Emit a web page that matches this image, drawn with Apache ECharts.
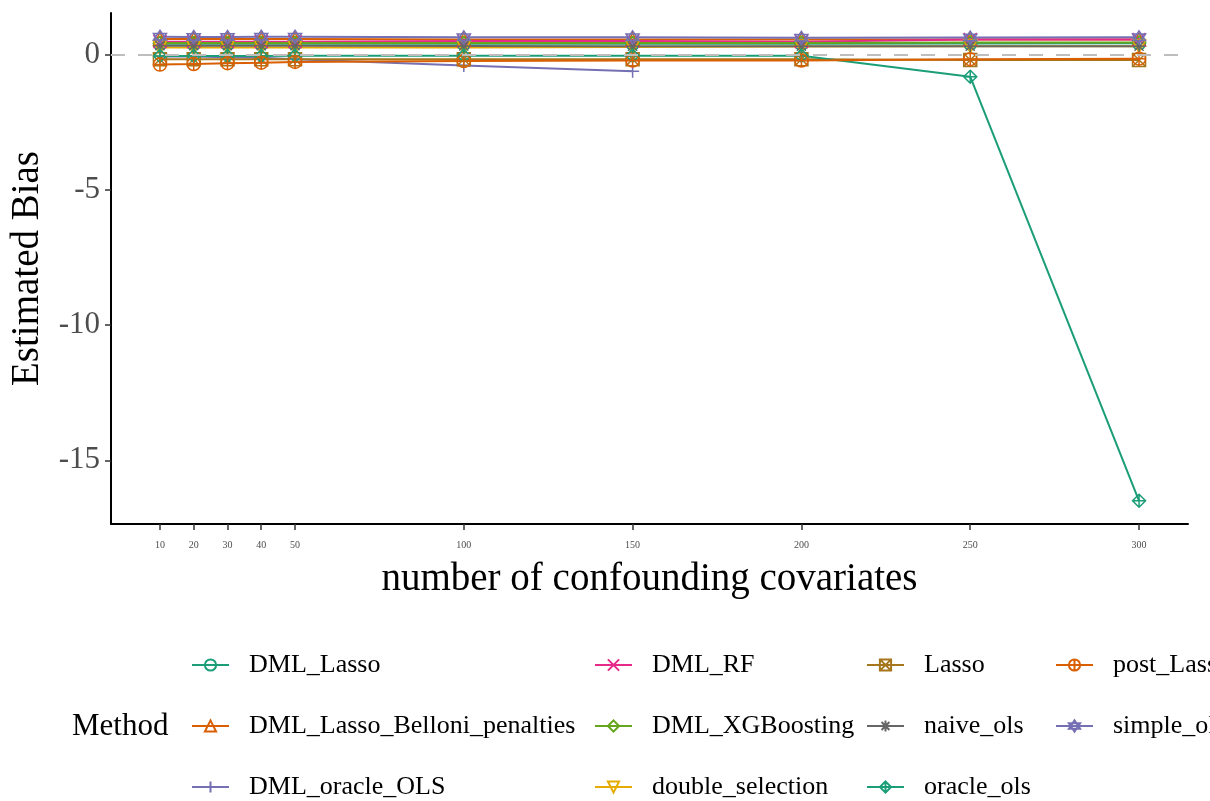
<!DOCTYPE html>
<html>
<head>
<meta charset="utf-8">
<script src="https://cdn.jsdelivr.net/npm/echarts@6/dist/echarts.min.js"></script>
<style>
html,body{margin:0;padding:0;background:#fff;}
#chart{width:1210px;height:801px;}
</style>
</head>
<body>
<div id="chart"></div>
<script>
// ---- data ----
const covariates = [10, 20, 30, 40, 50, 100, 150, 200, 250, 300];
const yTicks = [-15, -10, -5, 0];

const DML_Lasso = [0.42, 0.42, 0.42, 0.42, 0.42, 0.42, 0.42, 0.42, 0.43, 0.44];
const DML_Lasso_Belloni_penalties = [0.6, 0.6, 0.6, 0.6, 0.6, 0.58, 0.58, 0.58, 0.58, 0.58];
const DML_oracle_OLS = [-0.05, -0.05, -0.08, -0.1, -0.15, -0.38, -0.6, null, null, null];
const DML_RF = [0.5, 0.5, 0.5, 0.5, 0.5, 0.52, 0.52, 0.5, 0.58, 0.58];
const DML_XGBoosting = [0.45, 0.45, 0.45, 0.45, 0.45, 0.45, 0.45, 0.45, 0.47, 0.47];
const double_selection = [0.28, 0.28, 0.28, 0.28, 0.28, 0.28, 0.3, 0.32, 0.33, 0.33];
const Lasso = [-0.15, -0.15, -0.15, -0.15, -0.15, -0.15, -0.15, -0.15, -0.18, -0.18];
const naive_ols = [0.35, 0.35, 0.35, 0.35, 0.35, 0.34, 0.33, 0.33, 0.33, 0.33];
const oracle_ols = [-0.03, -0.03, -0.03, -0.03, -0.02, -0.02, -0.02, -0.02, -0.8, -16.5];
const post_Lasso = [-0.35, -0.33, -0.3, -0.28, -0.25, -0.22, -0.2, -0.2, -0.15, -0.13];
const simple_ols = [0.68, 0.67, 0.67, 0.68, 0.68, 0.66, 0.66, 0.64, 0.65, 0.66];

const methods = ['DML_Lasso','DML_Lasso_Belloni_penalties','DML_oracle_OLS','DML_RF','DML_XGBoosting',
  'double_selection','Lasso','naive_ols','oracle_ols','post_Lasso','simple_ols'];
const values = [DML_Lasso, DML_Lasso_Belloni_penalties, DML_oracle_OLS, DML_RF, DML_XGBoosting,
  double_selection, Lasso, naive_ols, oracle_ols, post_Lasso, simple_ols];

// ---- styles ----
const colors = ['#1B9E77','#D95F02','#7570B3','#E7298A','#66A61E','#E6AB02','#A6761D','#666666','#1B9E77','#D95F02','#7570B3'];
const shapes = [
  'path://M0,5A5,5 0 1,1 10,5A5,5 0 1,1 0,5Z',
  'path://M5,0L10,8.66L0,8.66Z',
  'path://M5,0L5,10M0,5L10,5',
  'path://M0,0L10,10M10,0L0,10',
  'path://M5,0L10,5L5,10L0,5Z',
  'path://M0,0L10,0L5,8.66Z',
  'path://M0,0L10,0L10,10L0,10ZM0,0L10,10M10,0L0,10',
  'path://M5,0L5,10M0,5L10,5M1.5,1.5L8.5,8.5M8.5,1.5L1.5,8.5',
  'path://M5,0L10,5L5,10L0,5ZM5,0L5,10M0,5L10,5',
  'path://M0,5A5,5 0 1,1 10,5A5,5 0 1,1 0,5ZM5,0L5,10M0,5L10,5',
  'path://M5,0L10,7.5L0,7.5ZM0,2.5L10,2.5L5,10Z'
];
const serif = '"Liberation Serif", "DejaVu Serif", serif';

const series = [{
  name: '_zero',
  type: 'line',
  data: [],
  silent: true,
  itemStyle: { color: '#BEBEBE' },
  lineStyle: { color: '#BEBEBE' },
  markLine: {
    silent: true,
    symbol: 'none',
    label: { show: false },
    lineStyle: { color: '#BEBEBE', type: [14, 13], width: 2, opacity: 1 },
    emphasis: { disabled: true },
    data: [{ yAxis: 0 }],
    animation: false
  }
}].concat(methods.map((m, i) => ({
  name: m,
  type: 'line',
  data: covariates.map((x, j) => [x, values[i][j]]),
  symbol: shapes[i],
  symbolSize: 13,
  showAllSymbol: true,
  lineStyle: { color: colors[i], width: 2 },
  itemStyle: { color: 'rgba(0,0,0,0)', borderColor: colors[i], borderWidth: 1.5 },
  emphasis: { disabled: true },
  animation: false
})));

const legendCols = [[0,1,2],[3,4,5],[6,7,8],[9,10]];
const legendLefts = [191, 594, 866, 1055];
const rowCenters = [665, 726, 787];
const legends = [];
legendCols.forEach((idx, k) => {
  idx.forEach((i, r) => {
    legends.push({
      orient: 'horizontal',
      left: legendLefts[k],
      top: rowCenters[r] - 13,
      itemWidth: 37,
      itemHeight: 14,
      padding: 0,
      selectedMode: false,
      data: [methods[i]],
      textStyle: { fontFamily: serif, fontSize: 26, color: '#000', lineHeight: 26, padding: [0, 0, 0, 15] }
    });
  });
});

const chart = echarts.init(document.getElementById('chart'), null, { renderer: 'canvas' });
chart.setOption({
  backgroundColor: '#fff',
  animation: false,
  grid: { left: 111, right: 22, top: 13, bottom: 277, containLabel: false, outerBoundsMode: 'none' },
  xAxis: {
    type: 'value',
    min: -4.5, max: 314.5,
    name: 'number of confounding covariates',
    nameLocation: 'middle',
    nameGap: 36,
    nameMoveOverlap: false,
    nameTextStyle: { fontFamily: serif, fontSize: 39, color: '#000', verticalAlign: 'top' },
    axisLine: { onZero: false, lineStyle: { color: '#000', width: 2 } },
    axisTick: { show: true, length: 6, lineStyle: { color: '#333', width: 1.5 }, customValues: covariates },
    axisLabel: { customValues: covariates, fontFamily: serif, fontSize: 10, color: '#4D4D4D', margin: 16 },
    splitLine: { show: false }
  },
  yAxis: {
    type: 'value',
    min: -17.36, max: 1.56,
    name: 'Estimated Bias',
    nameLocation: 'middle',
    nameGap: 64,
    nameRotate: 90,
    nameMoveOverlap: false,
    nameTextStyle: { fontFamily: serif, fontSize: 39, color: '#000' },
    axisLine: { onZero: false, lineStyle: { color: '#000', width: 2 } },
    axisTick: { show: true, length: 6, lineStyle: { color: '#333', width: 1.5 }, customValues: yTicks },
    axisLabel: { customValues: yTicks, fontFamily: serif, fontSize: 31, color: '#4D4D4D', margin: 11 },
    splitLine: { show: false }
  },
  legend: legends,
  graphic: [{
    type: 'text',
    left: 72,
    top: 711,
    style: { text: 'Method', fontFamily: serif, fontSize: 31, fill: '#000' }
  }],
  series: series
});
</script>
</body>
</html>
